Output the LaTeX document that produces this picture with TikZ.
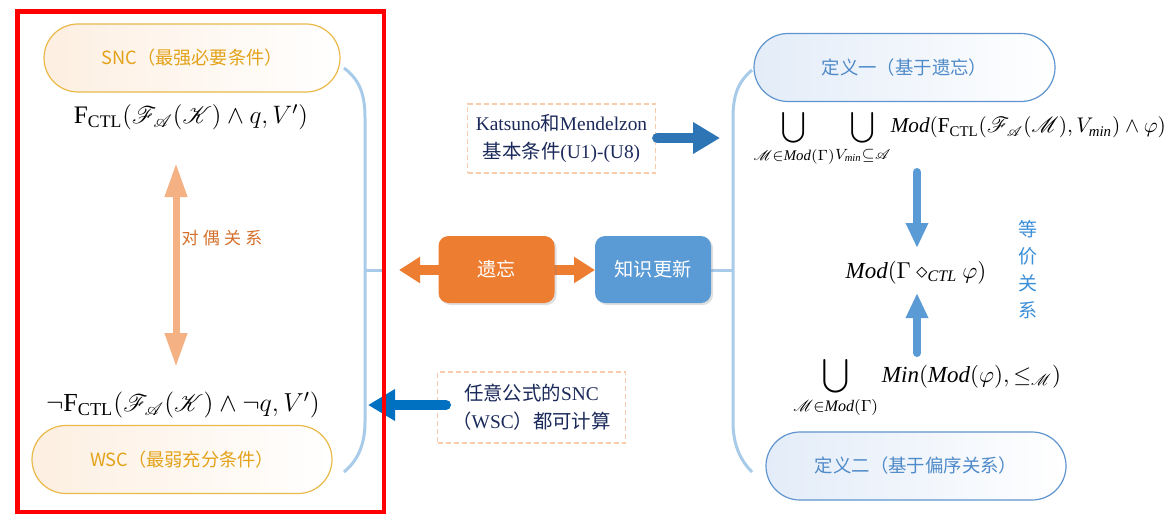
\RequirePackage{fix-cm}
\documentclass[tikz,border=0pt]{standalone}
\usepackage{amsmath}
\usepackage{mathrsfs}
\usepackage{fontspec}
\setmainfont{Liberation Serif}
\newfontfamily\cjk{Noto Sans CJK SC}
\usetikzlibrary{arrows.meta,shadows}
\definecolor{sncgold}{HTML}{E3A21A}
\definecolor{capgold}{HTML}{E9B949}
\definecolor{capfillO}{HTML}{FDEFE1}
\definecolor{capblue}{HTML}{5F95CF}
\definecolor{captext}{HTML}{4F8AC9}
\definecolor{capfillB}{HTML}{E3ECF8}
\definecolor{lightorange}{HTML}{F4B183}
\definecolor{dualtext}{HTML}{D4702C}
\definecolor{mainorange}{HTML}{ED7D31}
\definecolor{mainblue}{HTML}{5B9BD5}
\definecolor{arrowblue}{HTML}{2E75B6}
\definecolor{arrowblueB}{HTML}{0070C0}
\definecolor{eqtext}{HTML}{3B8ED8}
\definecolor{bracketblue}{HTML}{A9CBEA}
\definecolor{dashorange}{HTML}{F8CBAD}
\definecolor{navytext}{HTML}{1B2A5A}
\definecolor{redframe}{HTML}{FF0000}
\begin{document}
\begin{tikzpicture}[x=0.5pt,y=-0.5pt,
  goldcap/.style={draw=capgold, line width=0.6pt, left color=capfillO, right color=white,
    text=sncgold, rounded corners=17pt, minimum height=34pt, inner sep=0pt,
    font=\cjk\fontsize{9.1}{11}\selectfont},
  bluecap/.style={draw=capblue, line width=0.6pt, left color=capfillB, right color=white,
    text=captext, rounded corners=17pt, minimum height=34pt, inner sep=0pt,
    font=\cjk\fontsize{9.2}{11}\selectfont},
  solidbox/.style={rounded corners=5pt, minimum width=58pt, minimum height=33.5pt,
    inner sep=0pt, text=white, font=\cjk\fontsize{9.6}{11}\selectfont,
    drop shadow={shadow xshift=1pt, shadow yshift=-1pt, opacity=0.25, fill=gray}},
  dashbox/.style={draw=dashorange, line width=0.6pt, dash pattern=on 2.5pt off 1.5pt,
    minimum width=94pt, inner sep=0pt, align=center, text=navytext,
    font=\fontsize{9.7}{14}\selectfont},
  bracket/.style={draw=bracketblue, line width=1.5pt},
  formula/.style={inner sep=0pt, font=\fontsize{13}{15}\selectfont},
  dualarrow/.style={draw=lightorange, line width=3.5pt,
    {Triangle[length=17pt,width=10.5pt]}-{Triangle[length=17pt,width=10.5pt]}},
  hdualarrow/.style={draw=mainorange, line width=5pt,
    {Triangle[length=10.5pt,width=12.5pt]}-{Triangle[length=10.5pt,width=12.5pt]}},
  fatarrow/.style={line width=5pt, line cap=round, -{Triangle[length=13.5pt,width=15pt]}},
  vertarrow/.style={draw=mainblue, line width=4pt, line cap=round, -{Triangle[length=12.5pt,width=10.5pt]}}
]
\useasboundingbox (0,0) rectangle (1170,519);
\fill[white] (0,0) rectangle (1170,519);

% brackets
\draw[bracket] (344,68) .. controls (360,80) and (365,95) .. (365,118) -- (365,422)
  .. controls (365,447) and (356,462) .. (344,472);
\draw[bracket] (365,270) -- (384,270);
\draw[bracket] (752,70) .. controls (738,82) and (733,95) .. (733,118) -- (733,422)
  .. controls (733,447) and (742,462) .. (752,472);
\draw[bracket] (711,270) -- (733,270);

% capsules
\node[goldcap, minimum width=148pt] (snc) at (192,58) {SNC（最强必要条件）};
\node[goldcap, minimum width=150pt] (wsc) at (182,459.5) {WSC（最弱充分条件）};
\node[bluecap, minimum width=150.5pt] (def1) at (904.5,67.5) {定义一（基于遗忘）};
\node[bluecap, minimum width=150pt] (def2) at (916,466) {定义二（基于偏序关系）};

% formulas left
\node[formula, font=\fontsize{12.6}{15}\selectfont] (f1) at (191,117) {$\mathrm{F}_{\mathrm{CTL}}(\mathscr{F}_{\mathscr{A}}(\mathscr{K})\wedge q,V')$};
\node[formula] (f2) at (183,405) {$\neg\mathrm{F}_{\mathrm{CTL}}(\mathscr{F}_{\mathscr{A}}(\mathscr{K})\wedge\neg q,V')$};

% duality
\coordinate (dtop) at (176,163);
\coordinate (dbot) at (176,367);
\draw[dualarrow] (dtop) -- (dbot);
\node[text=dualtext, font=\cjk\fontsize{8.5}{10}\selectfont] (dual) at (222,238)
  {对\hspace{2.1pt}偶\hspace{2.1pt}关\hspace{2.1pt}系};

% center
\coordinate (hl) at (399,270);
\coordinate (hr) at (595,270);
\draw[hdualarrow] (hl) -- (hr);
\node[solidbox, fill=mainorange] (forget) at (496.5,269.5) {遗忘};
\node[solidbox, fill=mainblue] (update) at (653,269.5) {知识更新};

\node[dashbox, minimum height=34.5pt] (kat) at (561.5,138.5)
  {Katsuno{\cjk 和}Mendelzon\\{\cjk 基本条件}(U1)-(U8)};
\coordinate (katend) at (720,138);
\draw[fatarrow, draw=arrowblue] ([xshift=0.5pt]kat.east |- katend) -- (katend);

\node[dashbox, minimum height=35.5pt] (anyf) at (531.5,407.5)
  {{\cjk 任意公式的}SNC\\{\cjk （}WSC{\cjk ）都可计算}};
\coordinate (anyst) at (446,405);
\coordinate (anyend) at (368,405);
\draw[fatarrow, draw=arrowblueB] (anyst) -- (anyend);

% right formulas
\node[formula, anchor=base west, font=\fontsize{10.6}{13}\selectfont] (r1) at (753,133)
  {$\displaystyle\bigcup_{\mathscr{M}\in \mathit{Mod}(\Gamma)}\!\bigcup_{V_{\mathit{min}}\subseteq\mathscr{A}}\! \mathit{Mod}(\mathrm{F}_{\mathrm{CTL}}(\mathscr{F}_{\mathscr{A}}(\mathscr{M}),V_{\mathit{min}})\wedge\varphi)$};
\node[formula, anchor=base, font=\fontsize{11.5}{14}\selectfont] (r2) at (916,278) {$\mathit{Mod}(\Gamma\diamond_{\mathit{CTL}}\varphi)$};
\node[formula, anchor=base west, font=\fontsize{11.5}{14}\selectfont] (r3) at (793,382)
  {$\displaystyle\bigcup_{\mathscr{M}\in \mathit{Mod}(\Gamma)} \mathit{Min}(\mathit{Mod}(\varphi),\leq_{\mathscr{M}})$};

\coordinate (d1s) at (917,172);
\coordinate (d1e) at (917,248);
\draw[vertarrow] (d1s) -- (d1e);
\coordinate (u1s) at (917,353);
\coordinate (u1e) at (917,293);
\draw[vertarrow] (u1s) -- (u1e);

\node[text=eqtext, align=center, font=\cjk\fontsize{9.5}{13.5}\selectfont] (eq) at (1028,270)
  {等\\价\\关\\系};

% red frame
\draw[redframe, line width=2.25pt] (17.5,11.5) rectangle (384,512);
\end{tikzpicture}
\end{document}
